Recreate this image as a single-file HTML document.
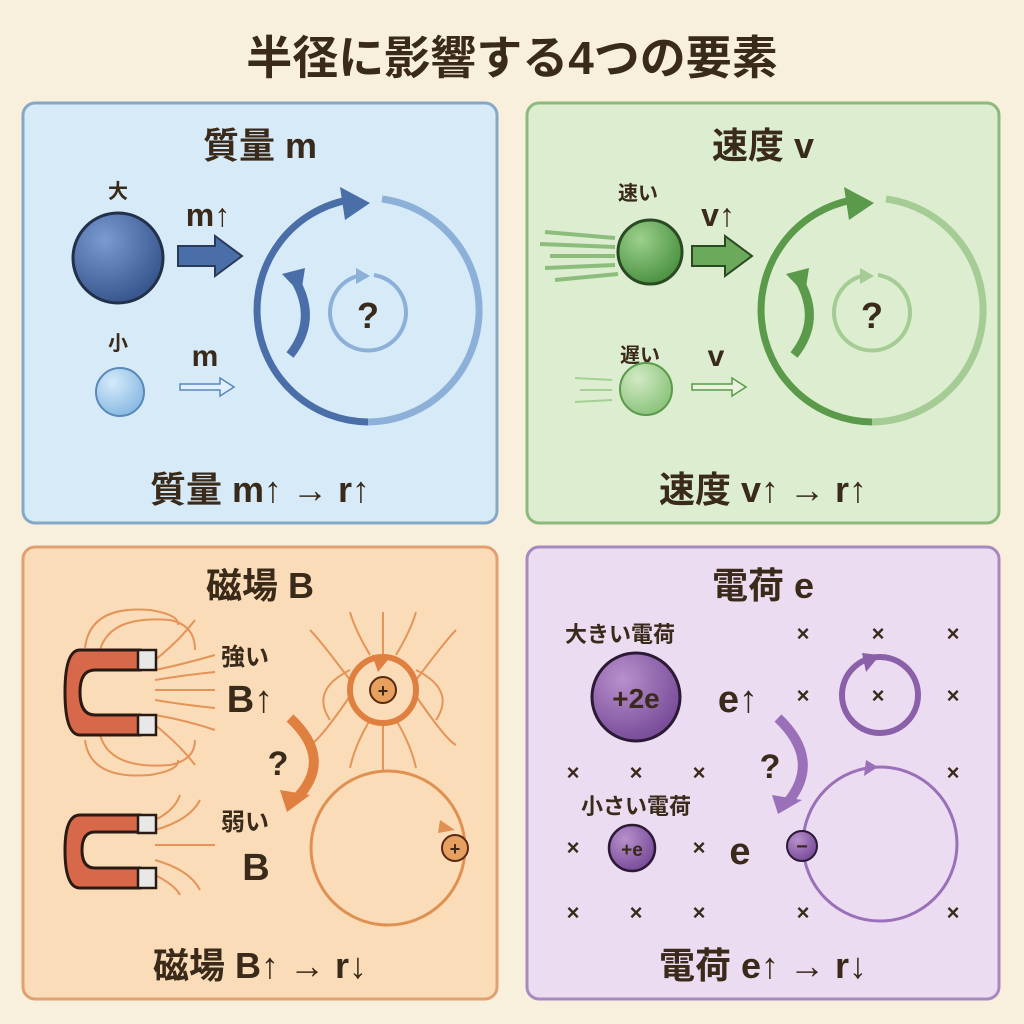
<!DOCTYPE html>
<html><head><meta charset="utf-8"><style>
body{margin:0;background:#f8f0dc}
svg{display:block}
text{font-family:"Liberation Sans","Noto Sans CJK JP",sans-serif;font-weight:bold;fill:#3a2a1a}
</style></head><body>
<svg width="1024" height="1024" viewBox="0 0 1024 1024">
<defs>
<radialGradient id="gb1" cx="35%" cy="30%" r="70%"><stop offset="0" stop-color="#7a9ad0"/><stop offset="1" stop-color="#3a5890"/></radialGradient>
<radialGradient id="gb2" cx="35%" cy="30%" r="70%"><stop offset="0" stop-color="#d4eafa"/><stop offset="1" stop-color="#8cbce4"/></radialGradient>
<radialGradient id="gg1" cx="35%" cy="30%" r="70%"><stop offset="0" stop-color="#9cd08c"/><stop offset="1" stop-color="#4e9444"/></radialGradient>
<radialGradient id="gg2" cx="35%" cy="30%" r="70%"><stop offset="0" stop-color="#d2eac4"/><stop offset="1" stop-color="#8ec47e"/></radialGradient>
<radialGradient id="gp" cx="35%" cy="30%" r="70%"><stop offset="0" stop-color="#b890cc"/><stop offset="1" stop-color="#7a4e9a"/></radialGradient>
</defs>
<rect width="1024" height="1024" fill="#f8f0dc"/>
<text x="512" y="74" font-size="46" text-anchor="middle" fill="#4a3624">半径に影響する4つの要素</text>

<!-- Blue -->
<rect x="23" y="103" width="474" height="420" rx="12" fill="#d6eaf8" stroke="#86a8c8" stroke-width="3"/>
<text x="260" y="158" font-size="36" text-anchor="middle">質量 m</text>
<text x="118" y="198" font-size="20" text-anchor="middle">大</text>
<circle cx="118" cy="258" r="45" fill="url(#gb1)" stroke="#22304a" stroke-width="3"/>
<text x="208" y="226" font-size="32" text-anchor="middle">m↑</text>
<path d="M178 246 H215 V236 L242 256 L215 276 V266 H178 Z" fill="#4a6ea8" stroke="#2a3a5a" stroke-width="2"/>
<text x="118" y="350" font-size="20" text-anchor="middle">小</text>
<circle cx="120" cy="392" r="24" fill="url(#gb2)" stroke="#5a88b8" stroke-width="2"/>
<text x="205" y="366" font-size="30" text-anchor="middle">m</text>
<path d="M180 384 H220 V378 L234 387 L220 396 V390 H180 Z" fill="#e0f0fc" stroke="#5a88b8" stroke-width="1.5"/>
<g fill="none">
<path d="M382 199 A112 112 0 0 1 368 422" stroke="#8cb0d8" stroke-width="7"/>
<path d="M348 200 A112 112 0 0 0 368 422" stroke="#4a6ea8" stroke-width="7"/>
<path d="M374 275 A38 38 0 1 1 362 275" stroke="#8cb0d8" stroke-width="4"/>
<path d="M290 355 Q318 320 295 280" stroke="#4a6ea8" stroke-width="9"/>
</g>
<path d="M340 187 L370 203 L345 220 Z" fill="#4a6ea8"/>
<path d="M282 274 L305 268 L301 294 Z" fill="#4a6ea8"/>
<path d="M356 268 L370 276 L356 284 Z" fill="#8cb0d8"/>
<text x="368" y="328" font-size="36" text-anchor="middle" fill="#6a8ec0">?</text>
<text x="260" y="502" font-size="36" text-anchor="middle">質量 m↑ → r↑</text>

<!-- Green -->
<rect x="527" y="103" width="472" height="420" rx="12" fill="#ddedd0" stroke="#8cba7c" stroke-width="3"/>
<text x="763" y="158" font-size="36" text-anchor="middle">速度 v</text>
<text x="638" y="200" font-size="20" text-anchor="middle">速い</text>
<g stroke="#6aaa5a" stroke-width="4" opacity="0.7"><line x1="545" y1="232" x2="615" y2="238"/><line x1="540" y1="244" x2="615" y2="247"/><line x1="550" y1="256" x2="615" y2="256"/><line x1="545" y1="268" x2="615" y2="265"/><line x1="555" y1="280" x2="618" y2="274"/></g>
<circle cx="650" cy="252" r="32" fill="url(#gg1)" stroke="#2a4a24" stroke-width="3"/>
<text x="718" y="226" font-size="32" text-anchor="middle">v↑</text>
<path d="M692 246 H725 V236 L752 256 L725 276 V266 H692 Z" fill="#6aaa5a" stroke="#2a4a24" stroke-width="2"/>
<text x="640" y="362" font-size="20" text-anchor="middle">遅い</text>
<g stroke="#8cc47c" stroke-width="2" opacity="0.7"><line x1="575" y1="378" x2="612" y2="380"/><line x1="580" y1="390" x2="612" y2="390"/><line x1="575" y1="402" x2="612" y2="400"/></g>
<circle cx="646" cy="389" r="26" fill="url(#gg2)" stroke="#5a9a4a" stroke-width="2"/>
<text x="716" y="366" font-size="30" text-anchor="middle">v</text>
<path d="M692 384 H732 V378 L746 387 L732 396 V390 H692 Z" fill="#e8f4dc" stroke="#5a9a4a" stroke-width="1.5"/>
<g fill="none">
<path d="M886 199 A112 112 0 0 1 872 422" stroke="#a4cc94" stroke-width="7"/>
<path d="M852 200 A112 112 0 0 0 872 422" stroke="#5a9a4a" stroke-width="7"/>
<path d="M878 275 A38 38 0 1 1 866 275" stroke="#a4cc94" stroke-width="4"/>
<path d="M794 355 Q822 320 799 280" stroke="#5a9a4a" stroke-width="9"/>
</g>
<path d="M844 187 L874 203 L849 220 Z" fill="#5a9a4a"/>
<path d="M786 274 L809 268 L805 294 Z" fill="#5a9a4a"/>
<path d="M860 268 L874 276 L860 284 Z" fill="#a4cc94"/>
<text x="872" y="328" font-size="36" text-anchor="middle" fill="#6aa05a">?</text>
<text x="763" y="502" font-size="36" text-anchor="middle">速度 v↑ → r↑</text>

<!-- Orange -->
<rect x="23" y="547" width="474" height="452" rx="12" fill="#fbdcb8" stroke="#e0a070" stroke-width="3"/>
<text x="260" y="598" font-size="36" text-anchor="middle">磁場 B</text>
<g fill="none" stroke="#e08848" stroke-width="2" opacity="0.85">
<path d="M155 670 Q180 665 215 655"/><path d="M155 680 Q185 675 215 672"/><path d="M155 690 H215"/><path d="M155 700 Q185 705 215 708"/><path d="M155 715 Q185 720 215 730"/>
<path d="M155 660 Q180 640 195 620"/><path d="M100 650 Q110 615 170 620 Q195 625 195 650"/><path d="M155 725 Q180 745 195 765"/><path d="M100 735 Q110 770 170 765 Q195 760 195 740"/>
<path d="M85 648 Q90 605 150 610 Q180 615 178 625"/><path d="M85 740 Q90 780 150 775 Q180 770 178 760"/>
<path d="M155 820 Q175 810 180 795"/><path d="M155 830 Q190 820 200 800"/><path d="M155 845 H215"/><path d="M155 860 Q190 870 200 890"/><path d="M155 875 Q175 885 180 895"/>
<path d="M383 655 V612"/><path d="M370 655 Q355 630 350 612"/><path d="M396 655 Q411 630 416 612"/>
<path d="M383 720 V770"/><path d="M370 720 Q355 745 350 768"/><path d="M396 720 Q411 745 416 768"/>
<path d="M350 680 Q320 640 310 630"/><path d="M416 680 Q446 640 456 630"/><path d="M350 696 Q320 740 310 745"/><path d="M416 696 Q446 740 456 745"/>
<path d="M350 670 Q310 690 330 720"/><path d="M416 670 Q456 690 436 720"/>
</g>
<g fill="none">
<path d="M80 650 H140 V670 H95 Q80 670 80 692 Q80 715 95 715 H140 V735 H80 Q65 735 65 692 Q65 650 80 650 Z" fill="#d8684a" stroke="#2a1a14" stroke-width="3"/>
<rect x="138" y="650" width="18" height="20" fill="#e8e8e8" stroke="#2a1a14" stroke-width="2.5"/>
<rect x="138" y="715" width="18" height="20" fill="#e8e8e8" stroke="#2a1a14" stroke-width="2.5"/>
<path d="M80 815 H140 V832 H95 Q82 832 82 850 Q82 868 95 868 H140 V888 H80 Q65 888 65 850 Q65 815 80 815 Z" fill="#d8684a" stroke="#2a1a14" stroke-width="3"/>
<rect x="138" y="815" width="18" height="18" fill="#e8e8e8" stroke="#2a1a14" stroke-width="2.5"/>
<rect x="138" y="868" width="18" height="20" fill="#e8e8e8" stroke="#2a1a14" stroke-width="2.5"/>
</g>
<text x="245" y="665" font-size="24" text-anchor="middle">強い</text>
<text x="250" y="712" font-size="38" text-anchor="middle">B↑</text>
<text x="245" y="830" font-size="24" text-anchor="middle">弱い</text>
<text x="256" y="880" font-size="38" text-anchor="middle">B</text>
<text x="278" y="775" font-size="34" text-anchor="middle" fill="#e8a070">?</text>
<path d="M290 718 Q335 760 295 800" fill="none" stroke="#e08040" stroke-width="10"/>
<path d="M280 790 L310 795 L287 812 Z" fill="#e08040"/>
<circle cx="383" cy="690" r="33" fill="none" stroke="#e08040" stroke-width="6"/>
<path d="M372 655 L392 655 L378 672 Z" fill="#e08040"/>
<circle cx="383" cy="690" r="13" fill="#e8a060" stroke="#5a2a10" stroke-width="2"/>
<text x="383" y="697" font-size="18" text-anchor="middle">+</text>
<circle cx="388" cy="848" r="77" fill="none" stroke="#e09050" stroke-width="3"/>
<path d="M440 820 L455 830 L438 833 Z" fill="#e09050"/>
<circle cx="455" cy="848" r="13" fill="#e8a060" stroke="#5a2a10" stroke-width="2"/>
<text x="455" y="855" font-size="18" text-anchor="middle">+</text>
<text x="260" y="978" font-size="36" text-anchor="middle">磁場 B↑ → r↓</text>

<!-- Purple -->
<rect x="527" y="547" width="472" height="452" rx="12" fill="#ecdcf2" stroke="#a888c0" stroke-width="3"/>
<text x="763" y="598" font-size="36" text-anchor="middle">電荷 e</text>
<g font-size="22" text-anchor="middle" style="font-weight:normal">
<text x="803" y="641" fill="#a07ec0">×</text><text x="878" y="641" fill="#a07ec0">×</text><text x="953" y="641" fill="#a07ec0">×</text>
<text x="803" y="703" fill="#a07ec0">×</text><text x="878" y="703" fill="#a07ec0">×</text><text x="953" y="703" fill="#a07ec0">×</text>
<text x="573" y="780" fill="#a07ec0">×</text><text x="636" y="780" fill="#a07ec0">×</text><text x="699" y="780" fill="#a07ec0">×</text><text x="953" y="780" fill="#a07ec0">×</text>
<text x="573" y="855" fill="#a07ec0">×</text><text x="699" y="855" fill="#a07ec0">×</text>
<text x="573" y="920" fill="#a07ec0">×</text><text x="636" y="920" fill="#a07ec0">×</text><text x="699" y="920" fill="#a07ec0">×</text><text x="803" y="920" fill="#a07ec0">×</text><text x="953" y="920" fill="#a07ec0">×</text>
</g>
<text x="620" y="642" font-size="22" text-anchor="middle">大きい電荷</text>
<circle cx="636" cy="697" r="44" fill="url(#gp)" stroke="#2a1a34" stroke-width="3"/>
<text x="636" y="708" font-size="28" text-anchor="middle">+2e</text>
<text x="738" y="712" font-size="38" text-anchor="middle">e↑</text>
<text x="636" y="814" font-size="22" text-anchor="middle">小さい電荷</text>
<circle cx="632" cy="848" r="23" fill="url(#gp)" stroke="#2a1a34" stroke-width="2.5"/>
<text x="632" y="856" font-size="19" text-anchor="middle">+e</text>
<text x="740" y="864" font-size="38" text-anchor="middle">e</text>
<text x="770" y="778" font-size="34" text-anchor="middle" fill="#a080c0">?</text>
<path d="M778 718 Q822 760 788 802" fill="none" stroke="#9a70b8" stroke-width="10"/>
<path d="M772 795 L802 800 L778 814 Z" fill="#9a70b8"/>
<circle cx="880" cy="695" r="38" fill="none" stroke="#8a60a8" stroke-width="6"/>
<path d="M862 653 L880 655 L866 672 Z" fill="#8a60a8"/>
<circle cx="880" cy="844" r="77" fill="none" stroke="#9a70b8" stroke-width="3"/>
<path d="M866 760 L878 767 L864 776 Z" fill="#9a70b8"/>
<circle cx="802" cy="846" r="15" fill="url(#gp)" stroke="#2a1a34" stroke-width="2"/>
<text x="802" y="853" font-size="20" text-anchor="middle">−</text>
<text x="763" y="978" font-size="36" text-anchor="middle">電荷 e↑ → r↓</text>
</svg>
</body></html>
